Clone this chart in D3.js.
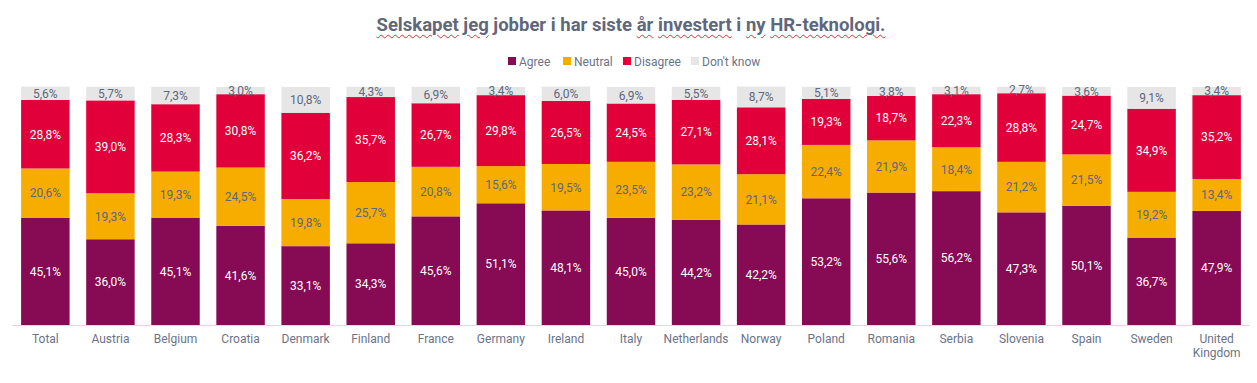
<!DOCTYPE html>
<html>
<head>
<meta charset="utf-8">
<script src="https://cdn.jsdelivr.net/npm/d3@7"></script>
<style>
  html, body { margin: 0; padding: 0; background: #fff; }
  body { width: 1257px; height: 383px; overflow: hidden; position: relative; font-family: Roboto, "Noto Sans", sans-serif; }
  #title { position: absolute; left: 0; width: 1262px; top: 14px; text-align: center; font-weight: 700; font-size: 18.5px; color: #5f677b; white-space: nowrap; }
  #title .sp { text-decoration: underline wavy #e0303a; text-decoration-thickness: 1px; text-underline-offset: 3px; }
  svg { position: absolute; left: 0; top: 0; }
</style>
</head>
<body>
<div id="title"></div>
<svg id="chart" width="1257" height="383"></svg>
<script>
const titleWords = ["Selskapet", "jeg", "jobber", "i", "har", "siste", "år", "investert", "i", "ny", "HR-teknologi."];
const titleMarked = [true, true, false, false, false, false, true, true, false, true, true];

const categories = ["Total", "Austria", "Belgium", "Croatia", "Denmark", "Finland", "France", "Germany", "Ireland", "Italy", "Netherlands", "Norway", "Poland", "Romania", "Serbia", "Slovenia", "Spain", "Sweden", "United Kingdom"];
const seriesNames = ["Agree", "Neutral", "Disagree", "Don't know"];
const agree    = [45.1, 36.0, 45.1, 41.6, 33.1, 34.3, 45.6, 51.1, 48.1, 45.0, 44.2, 42.2, 53.2, 55.6, 56.2, 47.3, 50.1, 36.7, 47.9];
const neutral  = [20.6, 19.3, 19.3, 24.5, 19.8, 25.7, 20.8, 15.6, 19.5, 23.5, 23.2, 21.1, 22.4, 21.9, 18.4, 21.2, 21.5, 19.2, 13.4];
const disagree = [28.8, 39.0, 28.3, 30.8, 36.2, 35.7, 26.7, 29.8, 26.5, 24.5, 27.1, 28.1, 19.3, 18.7, 22.3, 28.8, 24.7, 34.9, 35.2];
const dontKnow = [5.6, 5.7, 7.3, 3.0, 10.8, 4.3, 6.9, 3.4, 6.0, 6.9, 5.5, 8.7, 5.1, 3.8, 3.1, 2.7, 3.6, 9.1, 3.4];

const colors = ["#870b54", "#f7ad00", "#e2003a", "#e6e6e6"];
const labelColors = ["#ffffff", "#5f677b", "#ffffff", "#5f677b"];
const textColor = "#6b7388";

// Title
const title = d3.select("#title");
titleWords.forEach((w, i) => {
  title.append("span").attr("class", titleMarked[i] ? "sp" : null).text(w);
  if (i < titleWords.length - 1) title.append("span").text(" ");
});

const rows = categories.map((c, i) => ({ cat: c, "Agree": agree[i], "Neutral": neutral[i], "Disagree": disagree[i], "Don't know": dontKnow[i] }));
const stack = d3.stack().keys(seriesNames)(rows);

const svg = d3.select("#chart");
const x = d3.scaleBand().domain(categories).range([12, 1250]).paddingInner(0.255).paddingOuter(0.14);
const y = d3.scaleLinear().domain([0, 100]).range([325, 86.8]);

const fmt = v => d3.format(".1f")(v).replace(".", ",") + "%";

const layers = svg.append("g").selectAll("g").data(stack).join("g")
  .attr("fill", (d, i) => colors[i]);
layers.selectAll("rect").data(d => d).join("rect")
  .attr("x", d => x(d.data.cat))
  .attr("width", x.bandwidth())
  .attr("y", d => y(d[1]))
  .attr("height", d => y(d[0]) - y(d[1]));

const labels = svg.append("g").attr("font-size", 12).attr("text-anchor", "middle");
stack.forEach((s, si) => {
  labels.append("g").attr("fill", labelColors[si]).selectAll("text").data(s).join("text")
    .attr("x", d => x(d.data.cat) + x.bandwidth() / 2)
    .attr("y", d => (y(d[0]) + y(d[1])) / 2)
    .attr("dy", "0.36em")
    .text(d => fmt(d[1] - d[0]));
});

// Axis
const axis = svg.append("g").attr("transform", "translate(0,325)")
  .call(d3.axisBottom(x).tickSize(0).tickPadding(0).tickFormat(""));
axis.select(".domain").attr("stroke", "#d9dce3").attr("stroke-width", 1.2).attr("d", "M12,0.5H1250");
axis.selectAll(".tick text").remove();
axis.selectAll(".tick").each(function(d) {
  const t = d3.select(this).append("text").attr("fill", textColor).attr("font-size", 12)
    .attr("text-anchor", "middle").attr("font-family", "Roboto, sans-serif");
  const parts = d === "United Kingdom" ? ["United", "Kingdom"] : [d];
  parts.forEach((p, i) => t.append("tspan").attr("x", 0).attr("y", 18 + i * 14).text(p));
});

// Legend
const legendX = [508, 563, 623, 691];
const lg = svg.append("g").attr("font-size", 12).attr("fill", textColor);
seriesNames.forEach((n, i) => {
  lg.append("rect").attr("x", legendX[i]).attr("y", 57).attr("width", 8).attr("height", 8).attr("fill", colors[i]);
  lg.append("text").attr("x", legendX[i] + 11).attr("y", 65.5).text(n);
});
</script>
</body>
</html>
